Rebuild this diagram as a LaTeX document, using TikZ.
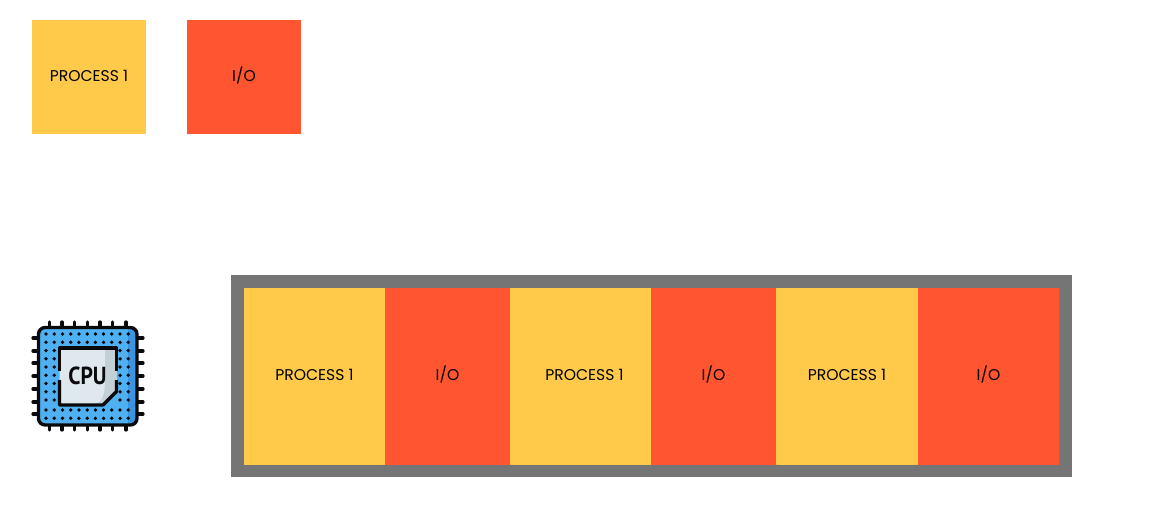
\documentclass[tikz,border=0pt]{standalone}
\usepackage{fontspec}
\setmainfont{Poppins}
\newfontfamily\cpufont{PT Sans}[FakeStretch=0.88]
\definecolor{procyellow}{RGB}{255,202,74}
\definecolor{iored}{RGB}{255,85,48}
\definecolor{bargray}{RGB}{117,117,117}
\definecolor{cpublue}{RGB}{79,176,242}
\definecolor{cpubluedark}{RGB}{58,148,226}
\definecolor{chiplight}{RGB}{223,232,236}
\definecolor{chipshade}{RGB}{195,208,213}
\definecolor{cpuink}{RGB}{10,10,12}
\usetikzlibrary{positioning}
\tikzset{
    procbox/.style={fill=procyellow,inner sep=0pt,outer sep=0pt,text height=9pt,text depth=3pt,font=\fontsize{11.7}{14}\selectfont},
    iobox/.style={fill=iored,inner sep=0pt,outer sep=0pt,text height=9pt,text depth=3pt,font=\fontsize{11.7}{14}\selectfont},
    pin/.style={cpuink,line width=2.5pt,line cap=round},
}
\begin{document}
\begin{tikzpicture}[x=0.75pt,y=-0.75pt]
        \useasboundingbox (0,0) rectangle (1154,515);

        % Legend squares
        \node[procbox,minimum width=85.5pt,minimum height=85.5pt] (legendproc) at (89,77) {PROCESS 1};
        \node[iobox,minimum width=85.5pt,minimum height=85.5pt] (legendio) at (244,77) {I/O};

        % Gray frame of the timeline
        \node[fill=bargray,inner sep=0pt,minimum width=630.75pt,minimum height=151.5pt] (frame) at (651.5,376) {};

        % Timeline slices
        \node[procbox,minimum width=105.75pt,minimum height=132.75pt] (slicea) at (314.5,376.5) {PROCESS 1};
        \node[iobox,minimum width=93.75pt,minimum height=132.75pt,right=0pt of slicea] (sliceb) {I/O};
        \node[procbox,minimum width=105.75pt,minimum height=132.75pt,right=0pt of sliceb] (slicec) {\hspace*{6pt}PROCESS 1};
        \node[iobox,minimum width=93.75pt,minimum height=132.75pt,right=0pt of slicec] (sliced) {I/O};
        \node[procbox,minimum width=106.5pt,minimum height=132.75pt,right=0pt of sliced] (slicee) {PROCESS 1};
        \node[iobox,minimum width=105.75pt,minimum height=132.75pt,right=0pt of slicee] (slicef) {I/O};

        % CPU icon: pins
        \foreach \px in {49.3,62,74.7,87.3,100,112.7,126}{
            \draw[pin] (\px,322) -- (\px,430);
        }
        \foreach \py in {338,351,363,376,389,402,414}{
            \draw[pin] (33,\py) -- (143,\py);
        }
        % CPU icon: body
        \fill[cpublue,rounded corners=5pt] (38.5,327.5) rectangle (137,425);
        \fill[cpubluedark,rounded corners=5pt] (123,327.5) rectangle (137,425);
        \fill[cpublue] (123,327.5) rectangle (128,425);
        \draw[cpuink,line width=2.5pt,rounded corners=5pt] (38.5,327.5) rectangle (137,425);

        % CPU icon: dots
        \foreach \dx in {46,54.2,62.5,70.7,78.9,87.2,95.4,103.6,111.8,120.1,128.3}{
            \foreach \dy in {334,342.3,410,418.3}{
                \fill[cpuink] (\dx,\dy) circle (1.4pt);
            }
        }
        \foreach \dy in {350.5,358.8,367,375.3,383.5,391.8,400}{
            \foreach \dx in {46,54.2,120.1,128.3}{
                \fill[cpuink] (\dx,\dy) circle (1.4pt);
            }
        }

        % CPU icon: chip
        \fill[chiplight] (59.5,348) -- (116.5,348) -- (116.5,391.5) -- (103,405) -- (59.5,405) -- cycle;
        \fill[chipshade] (105,348) -- (116.5,348) -- (116.5,391.5) -- (103,405) -- (92,405)
            -- (100,402) .. controls (104,396) and (105,392) .. (105,380) -- cycle;
        \draw[cpuink,line width=2.5pt,line join=round] (59.5,371) -- (59.5,348) -- (116.5,348) -- (116.5,371);
        \draw[cpuink,line width=2.5pt,line join=round] (116.5,380) -- (116.5,391.5) -- (103,405) -- (59.5,405) -- (59.5,380);
        \node[inner sep=0pt,text=cpuink,font=\cpufont\bfseries\fontsize{18.5}{20}\selectfont] (cpulabel) at (87.5,376) {CPU};

    \end{tikzpicture}
\end{document}
